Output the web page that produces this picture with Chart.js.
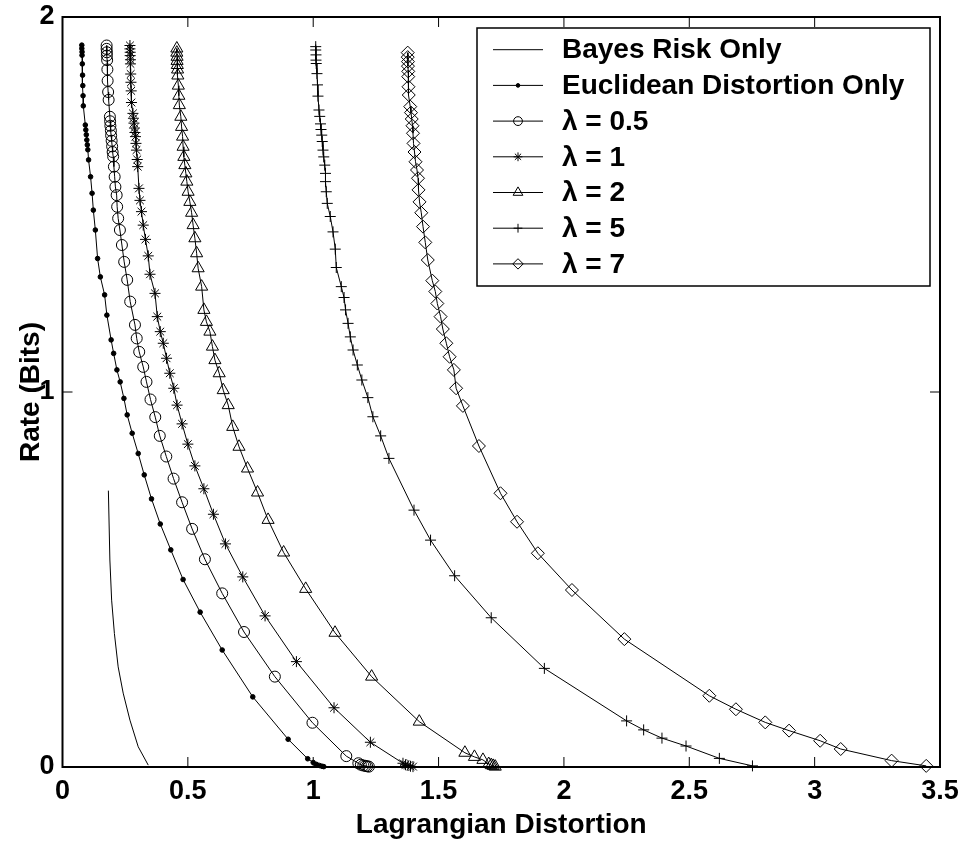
<!DOCTYPE html>
<html>
<head>
<meta charset="utf-8">
<script src="https://cdn.jsdelivr.net/npm/chart.js@4.4.0/dist/chart.umd.min.js"></script>
<style>
  html, body { margin: 0; padding: 0; background: #fff; }
</style>
</head>
<body>
<canvas id="chart" width="963" height="844"></canvas>
<script>
// axis ticks
const xTickValues = [0, 0.5, 1, 1.5, 2, 2.5, 3, 3.5];
const xTickLabels = ['0', '0.5', '1', '1.5', '2', '2.5', '3', '3.5'];
const yTickValues = [0, 1, 2];
const yTickLabels = ['0', '1', '2'];

const seriesNames = ['Bayes Risk Only', 'Euclidean Distortion Only', 'λ = 0.5', 'λ = 1', 'λ = 2', 'λ = 5', 'λ = 7'];

// Bayes Risk Only
const bayesX = [0.183, 0.189, 0.196, 0.207, 0.222, 0.242, 0.269, 0.302, 0.342];
const bayesY = [0.737, 0.552, 0.445, 0.356, 0.267, 0.197, 0.125, 0.054, 0.005];

// Euclidean Distortion Only
const euclidX = [0.077, 0.077, 0.078, 0.078, 0.079, 0.080, 0.081, 0.082, 0.083,
  0.091, 0.093, 0.095, 0.097, 0.099, 0.101, 0.104,
  0.112, 0.118, 0.123, 0.131, 0.140, 0.151, 0.168, 0.177, 0.194, 0.204, 0.217, 0.230, 0.245,
  0.258, 0.278, 0.302, 0.326, 0.355, 0.390, 0.432, 0.481, 0.549, 0.637, 0.759, 0.900, 0.978,
  1.000, 1.013, 1.025, 1.035, 1.042];
const euclidY = [1.925, 1.916, 1.907, 1.898, 1.875, 1.845, 1.817, 1.790, 1.763,
  1.712, 1.699, 1.686, 1.672, 1.659, 1.646, 1.619,
  1.574, 1.530, 1.485, 1.432, 1.356, 1.307, 1.259, 1.205, 1.139, 1.103, 1.059, 1.027, 0.983,
  0.939, 0.890, 0.836, 0.779, 0.715, 0.648, 0.579, 0.500, 0.413, 0.312, 0.187, 0.074, 0.022,
  0.012, 0.007, 0.004, 0.002, 0.001];

// lambda = 0.5
const lam05X = [0.176, 0.176, 0.177, 0.177, 0.178, 0.179, 0.180, 0.182, 0.184,
  0.189, 0.190, 0.191, 0.193, 0.194, 0.196, 0.198, 0.200, 0.202,
  0.205, 0.208, 0.211, 0.216, 0.218, 0.222, 0.229, 0.237, 0.246, 0.258, 0.270, 0.289, 0.296,
  0.306, 0.322, 0.335, 0.351, 0.370, 0.388, 0.414, 0.443, 0.477, 0.517, 0.568, 0.637, 0.724,
  0.847, 0.997, 1.132, 1.180, 1.190, 1.200, 1.208, 1.215, 1.222];
const lam05Y = [1.924, 1.915, 1.906, 1.897, 1.885, 1.860, 1.830, 1.800, 1.779,
  1.734, 1.722, 1.710, 1.697, 1.684, 1.670, 1.655, 1.640, 1.628,
  1.601, 1.574, 1.547, 1.525, 1.494, 1.463, 1.432, 1.392, 1.347, 1.299, 1.241, 1.179, 1.143,
  1.107, 1.067, 1.027, 0.980, 0.933, 0.883, 0.828, 0.769, 0.706, 0.635, 0.554, 0.463, 0.360,
  0.241, 0.118, 0.029, 0.010, 0.006, 0.004, 0.003, 0.002, 0.001];

// lambda = 1
const lam1X = [0.269, 0.269, 0.270, 0.270, 0.271, 0.271, 0.272, 0.273, 0.274, 0.275,
  0.281, 0.283, 0.285, 0.287, 0.289, 0.291, 0.293, 0.295, 0.298, 0.300,
  0.305, 0.309, 0.315, 0.322, 0.331, 0.342, 0.349, 0.369, 0.378, 0.390, 0.402, 0.415, 0.428,
  0.444, 0.457, 0.477, 0.500, 0.528, 0.564, 0.602, 0.650, 0.719, 0.808, 0.933, 1.083, 1.228,
  1.358, 1.368, 1.378, 1.388, 1.398];
const lam1Y = [1.924, 1.915, 1.906, 1.897, 1.886, 1.875, 1.848, 1.826, 1.803, 1.772,
  1.743, 1.730, 1.717, 1.704, 1.692, 1.681, 1.663, 1.645, 1.620, 1.601,
  1.543, 1.511, 1.481, 1.445, 1.407, 1.363, 1.314, 1.263, 1.201, 1.161, 1.130, 1.090, 1.050,
  1.010, 0.965, 0.915, 0.861, 0.803, 0.742, 0.674, 0.595, 0.507, 0.403, 0.281, 0.158, 0.066,
  0.010, 0.006, 0.004, 0.002, 0.001];

// lambda = 2
const lam2X = [0.456, 0.456, 0.457, 0.457, 0.458, 0.459, 0.460, 0.462, 0.464, 0.466,
  0.472, 0.475, 0.479, 0.481, 0.484, 0.488, 0.492, 0.496, 0.501, 0.508, 0.515, 0.521,
  0.528, 0.535, 0.541, 0.555, 0.564, 0.574, 0.588, 0.598, 0.608, 0.625, 0.641, 0.661,
  0.679, 0.704, 0.738, 0.778, 0.820, 0.882, 0.970, 1.087, 1.233, 1.423, 1.605, 1.643,
  1.677, 1.700, 1.710, 1.718, 1.726];
const lam2Y = [1.916, 1.905, 1.894, 1.883, 1.872, 1.860, 1.844, 1.817, 1.790, 1.765,
  1.734, 1.707, 1.681, 1.654, 1.627, 1.605, 1.583, 1.561, 1.534, 1.507, 1.478, 1.445,
  1.410, 1.370, 1.330, 1.281, 1.219, 1.187, 1.161, 1.121, 1.085, 1.050, 1.005, 0.965,
  0.907, 0.854, 0.796, 0.732, 0.659, 0.572, 0.475, 0.358, 0.241, 0.121, 0.038, 0.027,
  0.019, 0.008, 0.005, 0.003, 0.001];

// lambda = 5
const lam5X = [1.010, 1.010, 1.011, 1.011, 1.012, 1.015, 1.017, 1.019,
  1.023, 1.026, 1.029, 1.031, 1.034, 1.036, 1.039, 1.042, 1.046, 1.049, 1.049, 1.052,
  1.056, 1.068, 1.079, 1.088, 1.092, 1.112, 1.123, 1.129, 1.139, 1.148, 1.159, 1.176,
  1.194, 1.218, 1.238, 1.269, 1.302, 1.402, 1.468, 1.564, 1.710, 1.922, 2.250, 2.318,
  2.391, 2.487, 2.620, 2.752];
const lam5Y = [1.921, 1.912, 1.899, 1.885, 1.876, 1.849, 1.819, 1.789,
  1.752, 1.735, 1.715, 1.700, 1.685, 1.668, 1.645, 1.627, 1.605, 1.583, 1.561, 1.534,
  1.503, 1.468, 1.427, 1.381, 1.332, 1.281, 1.252, 1.219, 1.183, 1.147, 1.112, 1.072,
  1.032, 0.985, 0.934, 0.883, 0.823, 0.685, 0.605, 0.510, 0.398, 0.263, 0.123, 0.099,
  0.077, 0.056, 0.023, 0.003];

// lambda = 7
const lam7X = [1.377, 1.377, 1.378, 1.378, 1.379, 1.379, 1.380, 1.381,
  1.387, 1.390, 1.393, 1.396, 1.398, 1.400, 1.404, 1.408, 1.414, 1.418, 1.420, 1.424,
  1.431, 1.438, 1.447, 1.457, 1.475, 1.487, 1.495, 1.508, 1.517, 1.531, 1.544, 1.561,
  1.570, 1.597, 1.661, 1.747, 1.813, 1.896, 2.032, 2.241, 2.580, 2.686, 2.803, 2.898,
  3.022, 3.104, 3.307, 3.445];
const lam7Y = [1.905, 1.893, 1.881, 1.869, 1.855, 1.841, 1.814, 1.792,
  1.761, 1.745, 1.728, 1.710, 1.690, 1.663, 1.640, 1.614, 1.592, 1.570, 1.539, 1.507,
  1.478, 1.441, 1.399, 1.352, 1.297, 1.268, 1.236, 1.201, 1.168, 1.130, 1.094, 1.059,
  1.010, 0.963, 0.856, 0.730, 0.654, 0.570, 0.472, 0.341, 0.190, 0.154, 0.119, 0.097,
  0.070, 0.048, 0.017, 0.003];

const FONT = '"Liberation Sans", Arial, sans-serif';

function pts(xs, ys) {
  return xs.map((x, i) => ({ x: x, y: ys[i] }));
}

function series(label, xs, ys, style, radius, fill) {
  return {
    label: label,
    data: pts(xs, ys),
    showLine: true,
    borderColor: '#000',
    borderWidth: 1,
    pointStyle: style,
    pointRadius: radius,
    pointBorderColor: '#000',
    pointBorderWidth: 1,
    pointBackgroundColor: fill,
    pointHoverRadius: radius,
    clip: false
  };
}

const datasets = [
  series(seriesNames[0], bayesX, bayesY, 'circle', 0, '#000'),
  series(seriesNames[1], euclidX, euclidY, 'circle', 2.3, '#000'),
  series(seriesNames[2], lam05X, lam05Y, 'circle', 5.5, 'rgba(0,0,0,0)'),
  series(seriesNames[3], lam1X, lam1Y, 'star', 5.5, 'rgba(0,0,0,0)'),
  series(seriesNames[4], lam2X, lam2Y, 'triangle', 7, 'rgba(0,0,0,0)'),
  series(seriesNames[5], lam5X, lam5Y, 'cross', 5.5, 'rgba(0,0,0,0)'),
  series(seriesNames[6], lam7X, lam7Y, 'rectRot', 6.5, 'rgba(0,0,0,0)')
];

// box, inward ticks on all four sides
const frameTicks = {
  id: 'frameTicks',
  afterDatasetsDraw(chart) {
    const { ctx, chartArea: a, scales: { x, y } } = chart;
    ctx.save();
    ctx.strokeStyle = '#000';
    ctx.lineWidth = 1;
    ctx.beginPath();
    xTickValues.forEach(v => {
      const px = x.getPixelForValue(v);
      ctx.moveTo(px, a.bottom); ctx.lineTo(px, a.bottom - 10);
      ctx.moveTo(px, a.top); ctx.lineTo(px, a.top + 10);
    });
    yTickValues.forEach(v => {
      const py = y.getPixelForValue(v);
      ctx.moveTo(a.left, py); ctx.lineTo(a.left + 10, py);
      ctx.moveTo(a.right, py); ctx.lineTo(a.right - 10, py);
    });
    ctx.stroke();
    ctx.lineWidth = 2;
    ctx.strokeRect(a.left, a.top, a.right - a.left, a.bottom - a.top);
    ctx.restore();
  }
};

// legend box in the upper right of the axes
const legendBox = {
  id: 'legendBox',
  afterDraw(chart) {
    const { ctx, chartArea: a } = chart;
    const w = 453, h = 258, rowH = 35.7;
    const left = a.right - 10 - w, top = a.top + 11;
    ctx.save();
    ctx.fillStyle = '#fff';
    ctx.fillRect(left, top, w, h);
    ctx.strokeStyle = '#000';
    ctx.lineWidth = 1.5;
    ctx.strokeRect(left, top, w, h);
    ctx.font = 'bold 28px ' + FONT;
    ctx.textBaseline = 'middle';
    ctx.textAlign = 'left';
    chart.data.datasets.forEach((ds, i) => {
      const cy = top + 21.7 + i * rowH;
      ctx.strokeStyle = '#000';
      ctx.lineWidth = 1;
      ctx.beginPath();
      ctx.moveTo(left + 16, cy);
      ctx.lineTo(left + 66, cy);
      ctx.stroke();
      if (ds.pointRadius > 0) {
        ctx.fillStyle = ds.pointBackgroundColor;
        Chart.helpers.drawPoint(ctx, {
          pointStyle: ds.pointStyle,
          rotation: 0,
          radius: ds.pointRadius * 0.8,
          borderWidth: 1
        }, left + 41, cy);
      }
      ctx.fillStyle = '#000';
      ctx.fillText(ds.label, left + 85, cy + 1);
    });
    ctx.restore();
  }
};

new Chart(document.getElementById('chart'), {
  type: 'scatter',
  data: { datasets: datasets },
  plugins: [frameTicks, legendBox],
  options: {
    responsive: false,
    animation: false,
    events: [],
    layout: { padding: { top: 17, right: 23, left: 0, bottom: 0 } },
    plugins: {
      legend: { display: false },
      tooltip: { enabled: false }
    },
    scales: {
      x: {
        type: 'linear',
        min: 0,
        max: 3.5,
        afterBuildTicks: scale => { scale.ticks = xTickValues.map(v => ({ value: v })); },
        afterFit: scale => {
          scale.height = 77;
          scale.paddingLeft = 0;
          scale.paddingRight = 0;
        },
        grid: { display: false, drawTicks: false },
        border: { display: false },
        ticks: {
          color: '#000',
          padding: 8,
          maxRotation: 0,
          font: { family: FONT, size: 27, weight: 'bold' },
          callback: (v) => xTickLabels[xTickValues.indexOf(v)]
        },
        title: {
          display: true,
          text: 'Lagrangian Distortion',
          color: '#000',
          padding: { top: 0, bottom: 2 },
          font: { family: FONT, size: 28, weight: 'bold' }
        }
      },
      y: {
        type: 'linear',
        min: 0,
        max: 2,
        afterBuildTicks: scale => { scale.ticks = yTickValues.map(v => ({ value: v })); },
        afterFit: scale => {
          scale.width = 62.5;
          scale.paddingTop = 0;
          scale.paddingBottom = 0;
        },
        grid: { display: false, drawTicks: false },
        border: { display: false },
        ticks: {
          color: '#000',
          padding: 8,
          font: { family: FONT, size: 27, weight: 'bold' },
          callback: (v) => yTickLabels[yTickValues.indexOf(v)]
        },
        title: {
          display: true,
          text: 'Rate (Bits)',
          color: '#000',
          padding: { top: 14, bottom: 0 },
          font: { family: FONT, size: 28, weight: 'bold' }
        }
      }
    }
  }
});
</script>
</body>
</html>
